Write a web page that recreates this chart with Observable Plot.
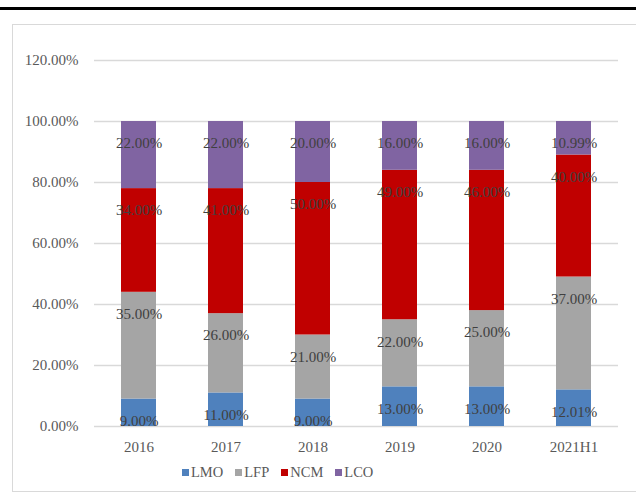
<!DOCTYPE html>
<html>
<head>
<meta charset="utf-8">
<script src="https://cdn.jsdelivr.net/npm/d3@7"></script>
<script src="https://cdn.jsdelivr.net/npm/@observablehq/plot@0.6"></script>
<style>
  html, body { margin: 0; padding: 0; background: #fff; overflow: hidden; }
  #page { position: relative; width: 636px; height: 502px; overflow: hidden; font-family: "Liberation Serif", "Times New Roman", serif; }
  .topline { position: absolute; left: 0; top: 7px; width: 636px; height: 3px; background: #000; }
  .frame { position: absolute; left: 12px; top: 24px; width: 660px; height: 468px; border: 1.5px solid #d9d9d9; box-sizing: border-box; }
  #chart { position: absolute; left: 0; top: 0; }
  .legend { position: absolute; left: 182px; top: 464px; display: flex; align-items: center; font-size: 14.5px; color: #595959; }
  .legend .item { display: flex; align-items: center; margin-right: 12px; }
  .legend .sw { width: 7px; height: 7px; margin-right: 2px; }
</style>
</head>
<body>
<div id="page">
  <div class="topline"></div>
  <div class="frame"></div>
  <div id="chart"></div>
  <div class="legend" id="legend"></div>
</div>
<script>
// Cathode material share by year (percent)
const years = ["2016", "2017", "2018", "2019", "2020", "2021H1"];
const types = ["LMO", "LFP", "NCM", "LCO"];
const colors = ["#4f81bd", "#a5a5a5", "#c00000", "#8064a2"];
const lmo = [9, 11, 9, 13, 13, 12.01];
const lfp = [35, 26, 21, 22, 25, 37];
const ncm = [34, 41, 50, 49, 46, 40];
const lco = [22, 22, 20, 16, 16, 10.99];
const yTicks = [0, 0.2, 0.4, 0.6, 0.8, 1.0, 1.2];

const series = [lmo, lfp, ncm, lco];
const rows = [];
types.forEach((t, i) => {
  years.forEach((y, j) => rows.push({year: y, type: t, value: series[i][j] / 100}));
});

const pct = d3.format(".2%");
const font = '"Liberation Serif", "Times New Roman", serif';

const chart = Plot.plot({
  width: 636,
  height: 460,
  marginLeft: 94,
  marginRight: 18,
  marginTop: 60,
  marginBottom: 34,
  style: {fontFamily: font, fontSize: "15px", color: "#595959", background: "transparent"},
  x: {domain: years, paddingInner: 0.6, paddingOuter: 0.3, label: null, tickSize: 0, tickPadding: 15},
  y: {domain: [0, 1.2], ticks: yTicks, tickFormat: pct, label: null, tickSize: 0, tickPadding: 16},
  color: {domain: types, range: colors},
  marks: [
    Plot.gridY(yTicks, {stroke: "#d9d9d9", strokeOpacity: 1, strokeWidth: 1.5}),
    Plot.barY(rows, Plot.stackY({x: "year", y: "value", fill: "type", order: types})),
    Plot.text(rows, Plot.stackY2({
      x: "year", y: "value", z: "type", order: types,
      text: d => pct(d.value), dy: 22, fill: "#404040",
      fontSize: 15, fontFamily: font
    }))
  ]
});
document.getElementById("chart").appendChild(chart);

const legend = document.getElementById("legend");
types.forEach((t, i) => {
  const item = document.createElement("div");
  item.className = "item";
  const sw = document.createElement("span");
  sw.className = "sw";
  sw.style.background = colors[i];
  const label = document.createElement("span");
  label.textContent = t;
  item.appendChild(sw);
  item.appendChild(label);
  legend.appendChild(item);
});
</script>
</body>
</html>
